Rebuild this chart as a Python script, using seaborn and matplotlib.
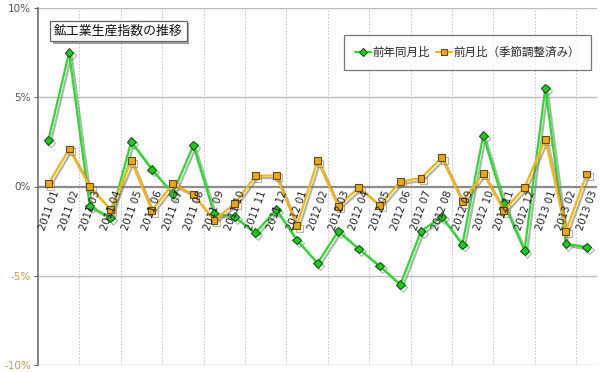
import numpy as np
import pandas as pd
import seaborn as sns
import matplotlib.pyplot as plt
import matplotlib.patheffects as pe
from matplotlib.lines import Line2D

# data (%)
months = ['2011 01', '2011 02', '2011 03', '2011 04', '2011 05', '2011 06', '2011 07',
          '2011 08', '2011 09', '2011 10', '2011 11', '2011 12', '2012 01', '2012 02',
          '2012 03', '2012 04', '2012 05', '2012 06', '2012 07', '2012 08', '2012 09',
          '2012 10', '2012 11', '2012 12', '2013 01', '2013 02', '2013 03']
yoy = [2.6, 7.5, -1.1, -1.75, 2.5, 0.95, -0.4, 2.3, -1.5, -1.7, -2.6, -1.3, -3.0, -4.3,
       -2.5, -3.5, -4.45, -5.5, -2.5, -1.7, -3.25, 2.85, -0.95, -3.6, 5.5, -3.2, -3.4]
mom = [0.15, 2.1, 0.0, -1.3, 1.45, -1.35, 0.15, -0.45, -1.9, -0.95, 0.6, 0.62, -2.2, 1.45,
       -1.1, -0.05, -1.05, 0.28, 0.47, 1.62, -0.85, 0.75, -1.35, -0.05, 2.65, -2.5, 0.7]
series_names = ['前年同月比', '前月比（季節調整済み）']
y_ticks = [-10, -5, 0, 5, 10]

df = pd.DataFrame({'pos': list(range(len(months))) * 2,
                   'value': yoy + mom,
                   'series': [series_names[0]] * len(months) + [series_names[1]] * len(months)})

sns.set_style('white')
plt.rcParams['font.family'] = ['Noto Sans CJK JP', 'DejaVu Sans']

fig = plt.figure(figsize=(6, 3.72), dpi=100)
ax = fig.add_axes([38 / 600, 1 - 365 / 372, 559 / 600, 357 / 372])

line_col = {0: '#22E022', 1: '#FFB400'}
edge = {0: '#0A5A0A', 1: '#6A4A00'}
face = {0: '#22C822', 1: '#E8A818'}
mk = {0: 'D', 1: 's'}
sizes = {0: 4.5, 1: 5}

palette = {series_names[0]: line_col[0], series_names[1]: line_col[1]}
sns.lineplot(data=df, x='pos', y='value', hue='series', style='series',
             markers={series_names[0]: mk[0], series_names[1]: mk[1]}, dashes=False,
             palette=palette, lw=1.6, ax=ax, legend=False)

# marker styling + drop shadow
for i, line in enumerate(ax.lines[:2]):
    line.set_markerfacecolor(face[i])
    line.set_markeredgecolor(edge[i])
    line.set_markeredgewidth(0.8)
    line.set_markersize(sizes[i])
    line.set_path_effects([pe.SimpleLineShadow(offset=(1.8, -1.8), shadow_color='#808080', alpha=0.6),
                           pe.Normal()])

ax.set_xlim(-0.5, len(months) - 0.5)
ax.set_ylim(-10, 10)

# horizontal grid
for v in y_ticks:
    if v == 0:
        ax.axhline(v, color='#8C8C8C', lw=1.6, zorder=1)
    else:
        ax.axhline(v, color='#B8BDB8', lw=1, zorder=1)
# vertical dotted grid every 2 months, between categories
for b in np.arange(1.5, len(months) - 1, 2):
    ax.axvline(b, color='#C8C8C8', lw=0.8, ls=(0, (1.5, 1.5)), zorder=0)

ax.set_yticks(y_ticks)
ax.set_yticklabels([f'{v}%' for v in y_ticks], fontsize=7.5, family='DejaVu Sans')
for lbl, v in zip(ax.get_yticklabels(), y_ticks):
    lbl.set_color('#D09A40' if v < 0 else '#555555')
ax.tick_params(axis='y', length=3, width=0.8, color='#666666', pad=2, left=True)

# month labels hanging below the zero line
ax.set_xticks([])
for i, m in enumerate(months):
    ax.text(i + 0.15, -0.15, m, rotation=70, ha='right', va='top', rotation_mode='anchor',
            fontsize=7.3, color='#222222', family='DejaVu Sans')

for s in ['top', 'right', 'bottom']:
    ax.spines[s].set_visible(False)
ax.spines['left'].set_color('#707070')
ax.spines['left'].set_linewidth(1.2)
ax.set_xlabel(None)
ax.set_ylabel(None)

# legend
handles = [Line2D([], [], color=line_col[i], lw=1.6, marker=mk[i], ms=sizes[i],
                  mfc=face[i], mec=edge[i], mew=0.8) for i in range(2)]
leg = ax.legend(handles, series_names, loc='upper right', bbox_to_anchor=(591 / 600, 1 - 35 / 372),
                bbox_transform=fig.transFigure, ncol=2, fontsize=8.3, frameon=True,
                fancybox=False, handlelength=1.4, handletextpad=0.15, columnspacing=0.5,
                borderpad=0.95, borderaxespad=0)
leg.get_frame().set_edgecolor('#555555')
leg.get_frame().set_linewidth(0.9)

# title box
fig.text(54 / 600, 1 - 31 / 372, '鉱工業生産指数の推移', fontsize=9.3, va='center', ha='left',
         color='#111111',
         bbox=dict(boxstyle='square,pad=0.3', fc='white', ec='#666666', lw=0.9,
                   path_effects=[pe.withSimplePatchShadow(offset=(2, -2), shadow_rgbFace='#888888', alpha=0.8)]))

fig.savefig('out.png', dpi=100)
